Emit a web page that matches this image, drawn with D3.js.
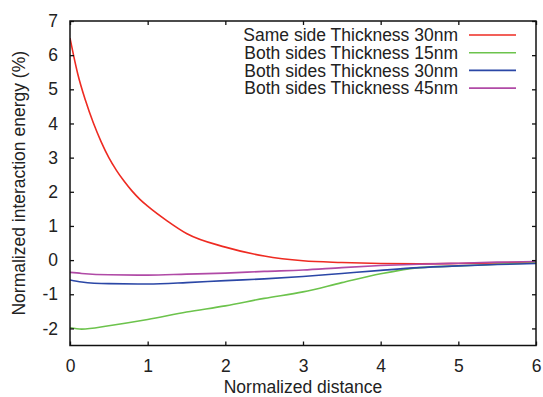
<!DOCTYPE html>
<html>
<head>
<meta charset="utf-8">
<script src="https://cdn.jsdelivr.net/npm/d3@7"></script>
<style>
  body { margin: 0; background: #fff; }
  text { font-family: "Liberation Sans", Arial, sans-serif; fill: #222; }
</style>
</head>
<body>
<div id="chart"></div>
<script>
// x positions (normalized distance) for each series
const xRed = [0, 0.05, 0.1, 0.2, 0.3, 0.4, 0.5, 0.6, 0.7, 0.8, 0.9, 1.0, 1.25, 1.5, 2.0, 2.5, 3.0, 3.5, 4.0, 4.5, 5.0, 5.5, 6.0];
const sameSide30 = [6.5, 5.95, 5.45, 4.67, 4.02, 3.47, 3.0, 2.62, 2.3, 2.02, 1.78, 1.58, 1.15, 0.78, 0.38, 0.12, -0.02, -0.07, -0.1, -0.11, -0.1, -0.08, -0.06];

const xBoth = [0, 0.15, 0.5, 1.0, 1.5, 2.0, 2.5, 3.0, 3.5, 4.0, 4.5, 5.0, 5.5, 6.0];
const bothSides15 = [-1.98, -2.02, -1.92, -1.74, -1.52, -1.34, -1.12, -0.93, -0.66, -0.4, -0.22, -0.17, -0.12, -0.08];
const bothSides30 = [-0.58, -0.64, -0.69, -0.7, -0.66, -0.6, -0.55, -0.48, -0.39, -0.3, -0.22, -0.17, -0.13, -0.1];
const bothSides45 = [-0.36, -0.39, -0.43, -0.44, -0.41, -0.38, -0.33, -0.29, -0.22, -0.16, -0.12, -0.09, -0.06, -0.04];

const seriesNames = [
  'Same side Thickness 30nm',
  'Both sides Thickness 15nm',
  'Both sides Thickness 30nm',
  'Both sides Thickness 45nm'
];
const seriesColors = ['#ee2b22', '#6cc34c', '#2b47a6', '#b04aa6'];
const xTicks = [0, 1, 2, 3, 4, 5, 6];
const yTicks = [-2, -1, 0, 1, 2, 3, 4, 5, 6, 7];

const series = [
  { xs: xRed, ys: sameSide30 },
  { xs: xBoth, ys: bothSides15 },
  { xs: xBoth, ys: bothSides30 },
  { xs: xBoth, ys: bothSides45 }
].map((s, i) => ({ name: seriesNames[i], color: seriesColors[i], points: s.xs.map((x, j) => [x, s.ys[j]]) }));

const width = 543, height = 397;
const margin = { top: 21, right: 7, bottom: 51.5, left: 70 };
const innerW = width - margin.left - margin.right;
const innerH = height - margin.top - margin.bottom;
const tickLen = 4;
const fontSize = 17.5;

const svg = d3.select('#chart').append('svg')
  .attr('width', width)
  .attr('height', height);

const g = svg.append('g').attr('transform', `translate(${margin.left},${margin.top})`);

const x = d3.scaleLinear().domain([0, 6]).range([0, innerW]);
const y = d3.scaleLinear().domain([-2.5, 7]).range([innerH, 0]);

// clip for lines
svg.append('defs').append('clipPath').attr('id', 'clip')
  .append('rect').attr('width', innerW).attr('height', innerH);

const lineGen = d3.line().x(d => x(d[0])).y(d => y(d[1])).curve(d3.curveMonotoneX);

g.append('g').attr('clip-path', 'url(#clip)')
  .selectAll('path')
  .data(series)
  .join('path')
  .attr('d', d => lineGen(d.points))
  .attr('fill', 'none')
  .attr('stroke', d => d.color)
  .attr('stroke-width', 1.6);

// axes with inward ticks (gnuplot style), mirrored
function styleAxis(sel) {
  sel.select('.domain').remove();
  sel.selectAll('line').attr('stroke', '#111').attr('stroke-width', 1.3);
  sel.selectAll('text').attr('font-size', fontSize).attr('fill', '#222')
    .style('font-family', '"Liberation Sans", Arial, sans-serif');
}

const plainFormat = d => String(d);

g.append('g')
  .attr('transform', `translate(0,${innerH})`)
  .call(d3.axisBottom(x).tickValues(xTicks).tickSize(-tickLen).tickPadding(14).tickFormat(plainFormat))
  .call(styleAxis);

g.append('g')
  .call(d3.axisTop(x).tickValues(xTicks).tickSize(-tickLen).tickFormat(''))
  .call(styleAxis);

g.append('g')
  .call(d3.axisLeft(y).tickValues(yTicks).tickSize(-tickLen).tickPadding(12).tickFormat(plainFormat))
  .call(styleAxis);

g.append('g')
  .attr('transform', `translate(${innerW},0)`)
  .call(d3.axisRight(y).tickValues(yTicks).tickSize(-tickLen).tickFormat(''))
  .call(styleAxis);

// frame
g.append('rect')
  .attr('width', innerW)
  .attr('height', innerH)
  .attr('fill', 'none')
  .attr('stroke', '#111')
  .attr('stroke-width', 1.5);

// axis titles
svg.append('text')
  .attr('x', margin.left + innerW / 2)
  .attr('y', 393)
  .attr('text-anchor', 'middle')
  .attr('font-size', fontSize)
  .text('Normalized distance');

svg.append('text')
  .attr('transform', `translate(25,${margin.top + innerH / 2}) rotate(-90)`)
  .attr('text-anchor', 'middle')
  .attr('font-size', fontSize)
  .text('Normalized interaction energy (%)');

// legend
const legend = svg.append('g').attr('transform', 'translate(0,35)');
const rows = legend.selectAll('g').data(series).join('g')
  .attr('transform', (d, i) => `translate(0,${i * 17.7})`);

rows.append('text')
  .attr('x', 458)
  .attr('dy', '0.35em')
  .attr('text-anchor', 'end')
  .attr('font-size', fontSize)
  .text(d => d.name);

rows.append('line')
  .attr('x1', 469)
  .attr('x2', 516)
  .attr('stroke', d => d.color)
  .attr('stroke-width', 1.6);
</script>
</body>
</html>
